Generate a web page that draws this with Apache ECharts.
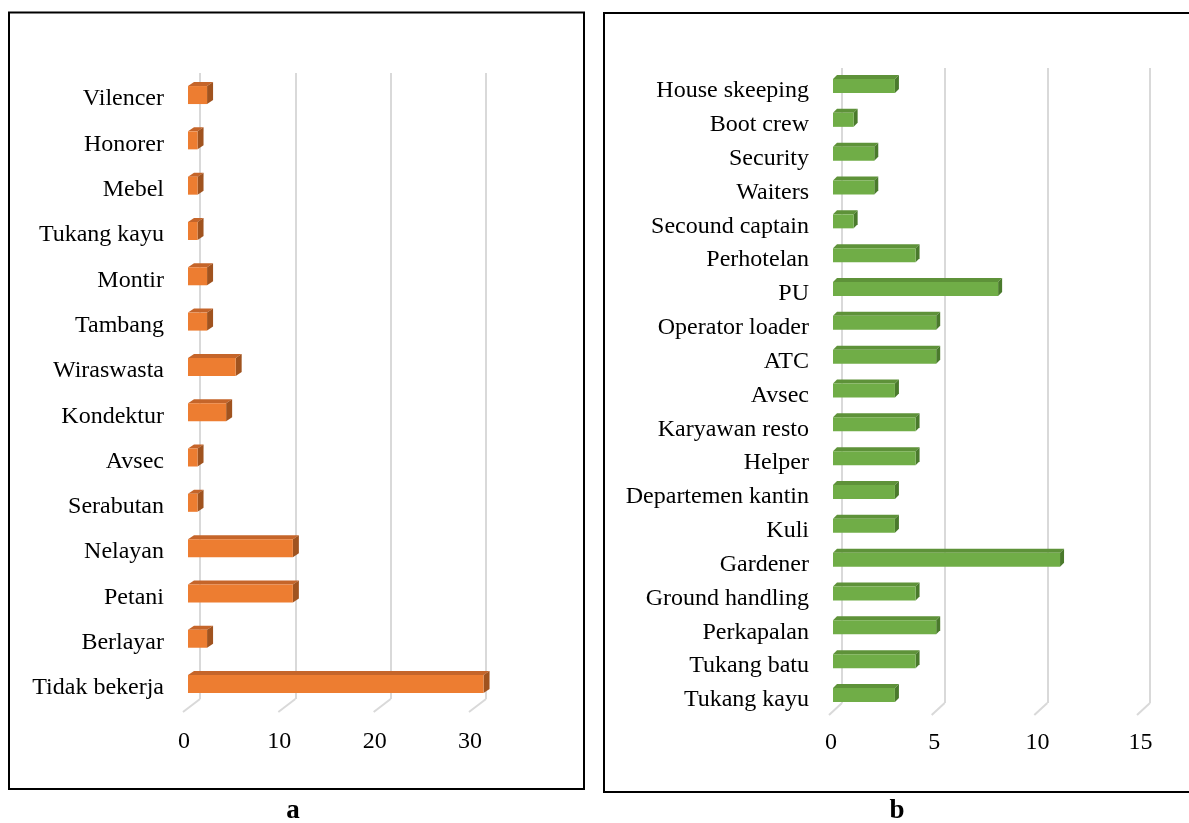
<!DOCTYPE html>
<html>
<head>
<meta charset="utf-8">
<script src="https://cdn.jsdelivr.net/npm/echarts@6/dist/echarts.min.js"></script>
<style>
html,body{margin:0;padding:0;background:#fff;}
#chart{width:1189px;height:823px;}
</style>
</head>
<body>
<div id="chart"></div>
<script>
// Panel a (bottom to top)
const catsA = ['Tidak bekerja','Berlayar','Petani','Nelayan','Serabutan','Avsec','Kondektur','Wiraswasta','Tambang','Montir','Tukang kayu','Mebel','Honorer','Vilencer'];
const valsA = [31, 2, 11, 11, 1, 1, 4, 5, 2, 2, 1, 1, 1, 2];
const ticksA = [0, 10, 20, 30];

// Panel b (bottom to top)
const catsB = ['Tukang kayu','Tukang batu','Perkapalan','Ground handling','Gardener','Kuli','Departemen kantin','Helper','Karyawan resto','Avsec','ATC','Operator loader','PU','Perhotelan','Secound captain','Waiters','Security','Boot crew','House skeeping'];
const valsB = [3, 4, 5, 4, 11, 3, 3, 4, 4, 3, 5, 5, 8, 4, 1, 2, 2, 1, 3];
const ticksB = [0, 5, 10, 15];

const FONT = '"Liberation Serif", "Times New Roman", serif';
const GRID = '#D9D9D9';

function bar3d(dx, dy, h, colors) {
  return function (params, api) {
    const v = api.value(0), c = api.value(1);
    const p0 = api.coord([0, c]);
    const p1 = api.coord([v, c]);
    const x0 = p0[0], x1 = p1[0], yT = p0[1] - h / 2, yB = p0[1] + h / 2;
    return {
      type: 'group',
      children: [
        {type: 'polygon', shape: {points: [[x0, yT], [x0 + dx, yT + dy], [x1 + dx, yT + dy], [x1, yT]]}, style: {fill: colors[1]}},
        {type: 'polygon', shape: {points: [[x1, yT], [x1 + dx, yT + dy], [x1 + dx, yB + dy], [x1, yB]]}, style: {fill: colors[2]}},
        {type: 'rect', shape: {x: x0, y: yT, width: x1 - x0, height: h}, style: {fill: colors[0]}}
      ]
    };
  };
}

function slant(dx, dy) {
  return function (params, api) {
    const p = api.coord([api.value(0), 0]);
    return {type: 'line', shape: {x1: p[0], y1: p[1], x2: p[0] + dx, y2: p[1] + dy}, style: {stroke: GRID, lineWidth: 2}};
  };
}

const hiddenX = (g, max) => ({gridIndex: g, type: 'value', min: 0, max: max, show: false});

const chart = echarts.init(document.getElementById('chart'));
chart.setOption({
  animation: false,
  backgroundColor: '#fff',
  grid: [
    {left: 200, top: 73, width: 286, height: 626},          // a back
    {left: 188, top: 72.4, width: 286, height: 634.3},      // a front
    {left: 842, top: 68, width: 308, height: 635},          // b back
    {left: 833, top: 69.1, width: 309.6, height: 642.8},    // b front
    {left: 188, top: 76.4, width: 286, height: 634.3},      // a labels
    {left: 833, top: 74.1, width: 309.6, height: 642.8}     // b labels
  ],
  xAxis: [
    {gridIndex: 0, type: 'value', min: 0, max: 30, interval: 10, axisLabel: {show: false}, axisLine: {show: false}, axisTick: {show: false}, splitLine: {lineStyle: {color: GRID, width: 2}}},
    {gridIndex: 1, type: 'value', min: 0, max: 30, interval: 10, axisLine: {show: false}, axisTick: {show: false}, splitLine: {show: false},
      axisLabel: {fontFamily: FONT, fontSize: 24, color: '#000', margin: 23, padding: [0, 8, 0, 0]}},
    {gridIndex: 2, type: 'value', min: 0, max: 15, interval: 5, axisLabel: {show: false}, axisLine: {show: false}, axisTick: {show: false}, splitLine: {lineStyle: {color: GRID, width: 2}}},
    {gridIndex: 3, type: 'value', min: 0, max: 15, interval: 5, axisLine: {show: false}, axisTick: {show: false}, splitLine: {show: false},
      axisLabel: {fontFamily: FONT, fontSize: 24, color: '#000', margin: 19, padding: [0, 4, 0, 0]}},
    hiddenX(4, 30),
    hiddenX(5, 15)
  ],
  yAxis: [
    {gridIndex: 0, type: 'value', min: 0, max: 1, show: false},
    {gridIndex: 1, type: 'category', data: catsA, axisLine: {show: false}, axisTick: {show: false}, axisLabel: {show: false}},
    {gridIndex: 2, type: 'value', min: 0, max: 1, show: false},
    {gridIndex: 3, type: 'category', data: catsB, axisLine: {show: false}, axisTick: {show: false}, axisLabel: {show: false}},
    {gridIndex: 4, type: 'category', data: catsA, axisLine: {show: false}, axisTick: {show: false},
      axisLabel: {fontFamily: FONT, fontSize: 24, color: '#000', margin: 24}},
    {gridIndex: 5, type: 'category', data: catsB, axisLine: {show: false}, axisTick: {show: false},
      axisLabel: {fontFamily: FONT, fontSize: 24, color: '#000', margin: 24}}
  ],
  series: [
    {type: 'custom', xAxisIndex: 0, yAxisIndex: 0, z: 1, renderItem: slant(-17, 13), data: ticksA.map(t => [t, 0]), silent: true},
    {type: 'custom', xAxisIndex: 1, yAxisIndex: 1, z: 5, renderItem: bar3d(6, -4, 18, ['#ED7D31', '#C5652A', '#A0531F']),
      encode: {x: 0, y: 1}, data: valsA.map((v, i) => [v, i])},
    {type: 'custom', xAxisIndex: 2, yAxisIndex: 2, z: 1, renderItem: slant(-13, 12), data: ticksB.map(t => [t, 0]), silent: true},
    {type: 'custom', xAxisIndex: 3, yAxisIndex: 3, z: 5, renderItem: bar3d(4, -4, 14, ['#70AD47', '#5E9239', '#4A7A2C']),
      encode: {x: 0, y: 1}, data: valsB.map((v, i) => [v, i])}
  ],
  graphic: [
    {type: 'rect', shape: {x: 9, y: 12.5, width: 575, height: 776.5}, style: {fill: 'none', stroke: '#000', lineWidth: 2}},
    {type: 'rect', shape: {x: 604, y: 13, width: 600, height: 779}, style: {fill: 'none', stroke: '#000', lineWidth: 2}},
    {type: 'text', x: 293, y: 811, style: {text: 'a', font: 'bold 27px "Liberation Serif", serif', fill: '#000', align: 'center', verticalAlign: 'middle'}},
    {type: 'text', x: 897, y: 811, style: {text: 'b', font: 'bold 27px "Liberation Serif", serif', fill: '#000', align: 'center', verticalAlign: 'middle'}}
  ]
});
</script>
</body>
</html>
